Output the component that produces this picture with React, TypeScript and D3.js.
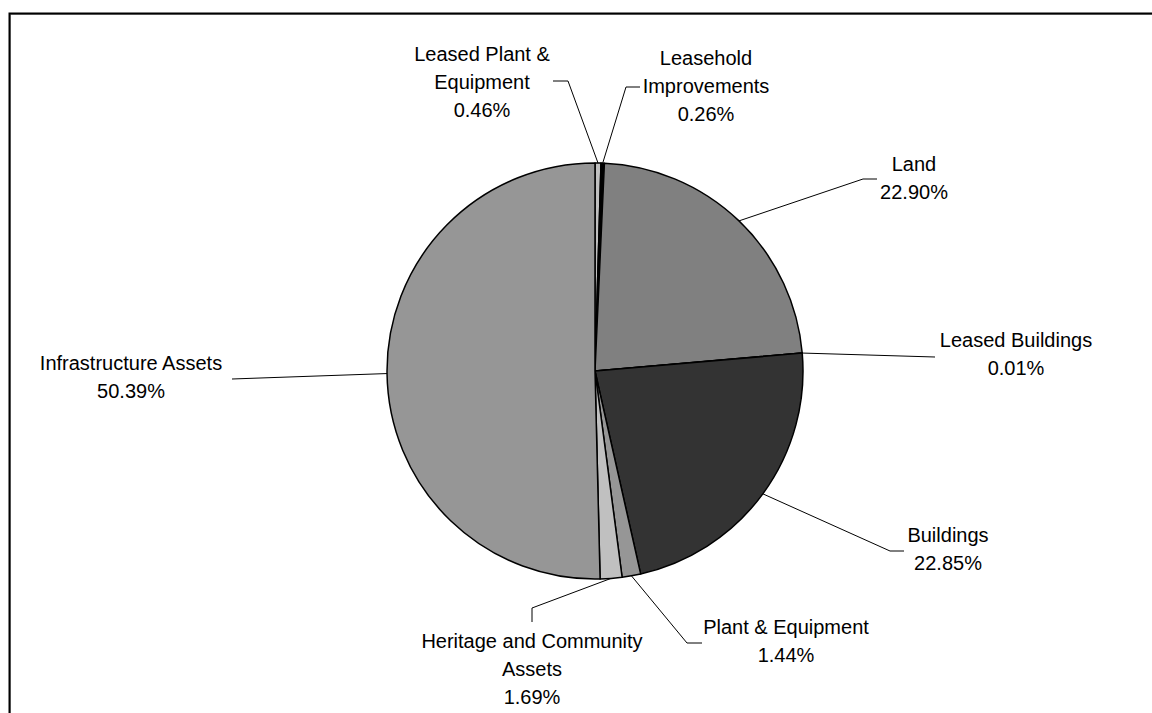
import * as React from 'react';
import { useEffect, useRef } from 'react';
import * as d3 from 'd3';

const categories = [
  'Leased Plant & Equipment',
  'Leasehold Improvements',
  'Land',
  'Leased Buildings',
  'Buildings',
  'Plant & Equipment',
  'Heritage and Community Assets',
  'Infrastructure Assets',
];

const shares = [0.46, 0.26, 22.9, 0.01, 22.85, 1.44, 1.69, 50.39];

// how the label text wraps in the original
const labelLines = [
  ['Leased Plant &', 'Equipment'],
  ['Leasehold', 'Improvements'],
  ['Land'],
  ['Leased Buildings'],
  ['Buildings'],
  ['Plant & Equipment'],
  ['Heritage and Community', 'Assets'],
  ['Infrastructure Assets'],
];

const sliceColors = ['#c0c0c0', '#000000', '#808080', '#ffffff', '#333333', '#969696', '#c0c0c0', '#969696'];

const width = 1152;
const height = 713;
const cx = 595;
const cy = 371;
const radius = 208;
const lineGap = 28;

// label placement (Excel labels were dragged by hand): text centre, first line,
// and the leader line's bend / end point
const labelLayout = [
  { x: 482, y: 53.5, bend: [568, 81], end: [553, 81] },
  { x: 706, y: 57.5, bend: [626, 87], end: [640, 87] },
  { x: 914, y: 164, bend: [863, 179], end: [877, 179] },
  { x: 1016, y: 340, bend: null, end: [935, 357] },
  { x: 948, y: 534.5, bend: [890, 551], end: [904, 551] },
  { x: 786, y: 627, bend: [687, 643], end: [702, 643] },
  { x: 532, y: 640.5, bend: [532, 608], end: [532, 622] },
  { x: 131, y: 362.5, bend: null, end: [232, 379] },
];

interface IDatum {
  name: string;
  value: number;
  index: number;
}

export default function App() {
  const ref = useRef<SVGSVGElement>(null);

  useEffect(() => {
    const svg = d3.select(ref.current);
    svg.selectAll('*').remove();

    // chart area frame, runs off the right and bottom of the picture
    svg
      .append('rect')
      .attr('x', 10.5)
      .attr('y', 14.5)
      .attr('width', width + 40)
      .attr('height', height + 40)
      .attr('fill', 'none')
      .attr('stroke', '#a0a0a0')
      .attr('stroke-width', 1);
    svg
      .append('rect')
      .attr('x', 9.5)
      .attr('y', 13.5)
      .attr('width', width + 40)
      .attr('height', height + 40)
      .attr('fill', 'none')
      .attr('stroke', '#000')
      .attr('stroke-width', 2);

    const data: IDatum[] = categories.map((name, index) => ({ name, value: shares[index], index }));

    const pie = d3
      .pie<IDatum>()
      .sort(null)
      .value(d => d.value);
    const arc = d3
      .arc<d3.PieArcDatum<IDatum>>()
      .innerRadius(0)
      .outerRadius(radius);

    const arcs = pie(data);

    const g = svg.append('g').attr('transform', `translate(${cx},${cy})`);

    g.selectAll('path')
      .data(arcs)
      .enter()
      .append('path')
      .attr('d', arc)
      .attr('fill', d => sliceColors[d.data.index])
      .attr('stroke', '#000')
      .attr('stroke-width', 1.5)
      .attr('stroke-linejoin', 'round');

    // leader lines
    const line = d3.line();
    arcs.forEach(d => {
      const mid = (d.startAngle + d.endAngle) / 2;
      const start: [number, number] = [cx + radius * Math.sin(mid), cy - radius * Math.cos(mid)];
      const lay = labelLayout[d.data.index];
      const pts: [number, number][] = [start];
      if (lay.bend) pts.push(lay.bend as [number, number]);
      pts.push(lay.end as [number, number]);
      svg
        .append('path')
        .attr('d', line(pts))
        .attr('fill', 'none')
        .attr('stroke', '#000')
        .attr('stroke-width', 1);
    });

    // labels
    const fmt = d3.format('.2f');
    arcs.forEach(d => {
      const lay = labelLayout[d.data.index];
      const lines = [...labelLines[d.data.index], `${fmt(d.data.value)}%`];
      const text = svg
        .append('text')
        .attr('text-anchor', 'middle')
        .attr('font-family', '"Liberation Sans", Arial, sans-serif')
        .attr('font-size', 20)
        .attr('fill', '#000');
      lines.forEach((l, i) => {
        text
          .append('tspan')
          .attr('x', lay.x)
          .attr('y', lay.y + i * lineGap + 7.2)
          .text(l);
      });
    });
  }, []);

  return (
    <svg
      ref={ref}
      width={width}
      height={height}
      style={{ position: 'absolute', left: 0, top: 0, background: '#fff' }}
    />
  );
}
